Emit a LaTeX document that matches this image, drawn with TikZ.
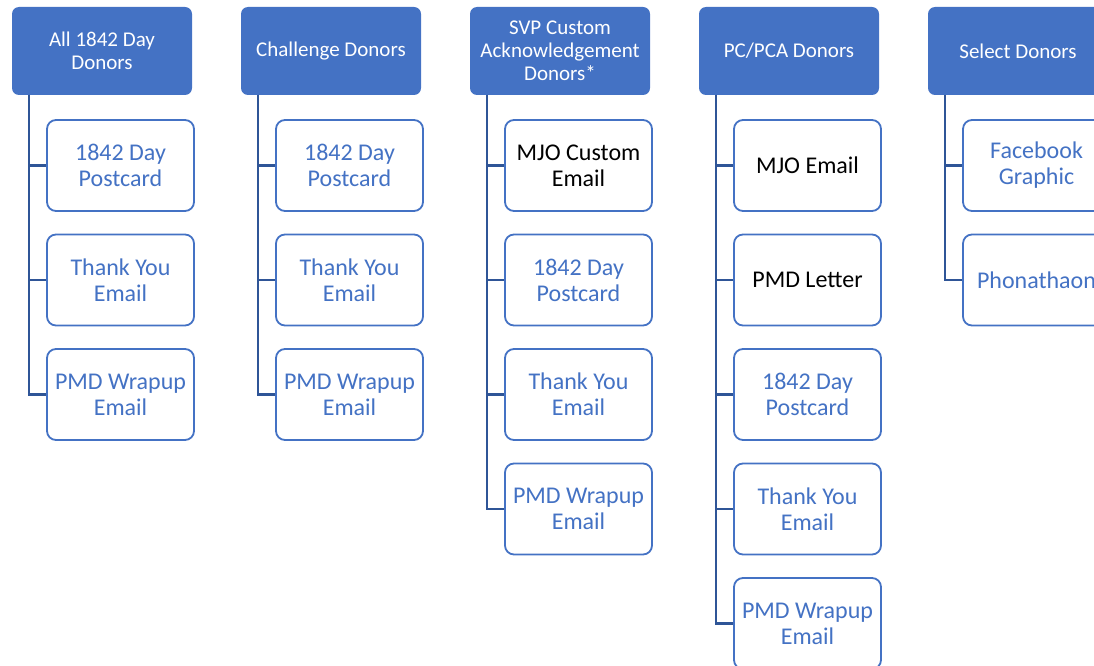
\documentclass[tikz,border=0pt]{standalone}
\usepackage{xcolor}
\usepackage{fontspec}
\setmainfont{Carlito}
\usepackage{tikz}
\usetikzlibrary{positioning,calc}
\definecolor{hdrblue}{HTML}{4472C4}
\definecolor{linkblue}{HTML}{2F5597}

\begin{document}
\begin{tikzpicture}[x=1pt,y=-1pt,
    header/.style={rectangle, rounded corners=7pt, fill=hdrblue, text=white, inner sep=0pt,
        minimum width=180pt, minimum height=88pt, align=center, font=\fontsize{21}{23}\selectfont},
    item/.style={rectangle, rounded corners=9pt, draw=hdrblue, line width=1.8pt, fill=white,
        text=hdrblue, inner sep=0pt, minimum width=147pt, minimum height=91pt, align=center,
        font=\fontsize{24}{26}\selectfont},
    link/.style={draw=linkblue, line width=2.2pt}]
    \useasboundingbox (0,0) rectangle (1094,666);
    \clip (0,0) rectangle (1094,666);

    % All 1842 Day Donors
    \node[header] (h1) at (102,51) {All 1842 Day\\Donors};
    \coordinate (t1) at (29,95);
    \node[item] (c11) at (120.5,165.5) {1842 Day\\Postcard};
    \node[item] (c12) at (120.5,280) {Thank You\\Email};
    \node[item] (c13) at (120.5,394.5) {PMD Wrapup\\Email};
    \draw[link] (t1) |- (c11.west);
    \draw[link] (t1) |- (c12.west);
    \draw[link] (t1) |- (c13.west);

    % Challenge Donors
    \node[header] (h2) at (331,51) {Challenge Donors};
    \coordinate (t2) at (258,95);
    \node[item] (c21) at (349.5,165.5) {1842 Day\\Postcard};
    \node[item] (c22) at (349.5,280) {Thank You\\Email};
    \node[item] (c23) at (349.5,394.5) {PMD Wrapup\\Email};
    \draw[link] (t2) |- (c21.west);
    \draw[link] (t2) |- (c22.west);
    \draw[link] (t2) |- (c23.west);

    % SVP Custom Acknowledgement Donors
    \node[header] (h3) at (560,51) {SVP Custom\\Acknowledgement\\Donors*};
    \coordinate (t3) at (487,95);
    \node[item, text=black] (c31) at (578.5,165.5) {MJO Custom\\Email};
    \node[item] (c32) at (578.5,280) {1842 Day\\Postcard};
    \node[item] (c33) at (578.5,394.5) {Thank You\\Email};
    \node[item] (c34) at (578.5,509) {PMD Wrapup\\Email};
    \draw[link] (t3) |- (c31.west);
    \draw[link] (t3) |- (c32.west);
    \draw[link] (t3) |- (c33.west);
    \draw[link] (t3) |- (c34.west);

    % PC/PCA Donors
    \node[header] (h4) at (789,51) {PC/PCA Donors};
    \coordinate (t4) at (716,95);
    \node[item, text=black] (c41) at (807.5,165.5) {MJO Email};
    \node[item, text=black] (c42) at (807.5,280) {PMD Letter};
    \node[item] (c43) at (807.5,394.5) {1842 Day\\Postcard};
    \node[item] (c44) at (807.5,509) {Thank You\\Email};
    \node[item] (c45) at (807.5,623.5) {PMD Wrapup\\Email};
    \draw[link] (t4) |- (c41.west);
    \draw[link] (t4) |- (c42.west);
    \draw[link] (t4) |- (c43.west);
    \draw[link] (t4) |- (c44.west);
    \draw[link] (t4) |- (c45.west);

    % Select Donors
    \node[header] (h5) at (1018,51) {Select Donors};
    \coordinate (t5) at (945,95);
    \node[item] (c51) at (1036.5,165.5) {Facebook\\Graphic};
    \node[item] (c52) at (1036.5,280) {Phonathaon};
    \draw[link] (t5) |- (c51.west);
    \draw[link] (t5) |- (c52.west);
\end{tikzpicture}
\end{document}
